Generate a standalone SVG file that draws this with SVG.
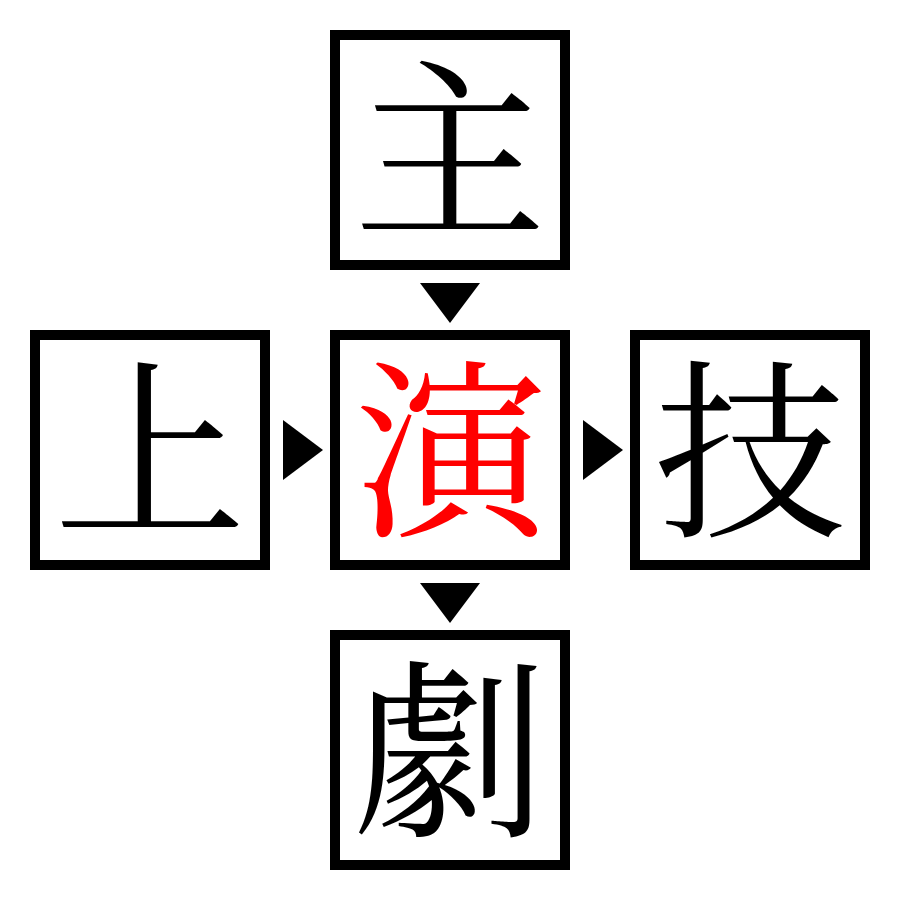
<svg xmlns="http://www.w3.org/2000/svg" width="900" height="900" viewBox="0 0 900 900">
<style>
.box{fill:#fff;stroke:#000;stroke-width:10}
.ch{font-family:"Noto Serif CJK JP","Noto Sans CJK JP",serif;font-size:192px;text-anchor:middle;dominant-baseline:central;fill:#000}
.red{fill:#ff0000}
.arr{fill:#000}
</style>
<rect width="900" height="900" fill="#fff"/>
<g id="node-top"><rect class="box" x="335" y="35" width="230" height="230"/><text class="ch" x="450" y="139">主</text></g>
<g id="node-left"><rect class="box" x="35" y="335" width="230" height="230"/><text class="ch" x="150" y="439">上</text></g>
<g id="node-center"><rect class="box" x="335" y="335" width="230" height="230"/><text class="ch red" x="450" y="439">演</text></g>
<g id="node-right"><rect class="box" x="635" y="335" width="230" height="230"/><text class="ch" x="750" y="439">技</text></g>
<g id="node-bottom"><rect class="box" x="335" y="635" width="230" height="230"/><text class="ch" x="450" y="739">劇</text></g>
<g id="connectors">
<polygon class="arr" points="420,283 480,283 450,323"/>
<polygon class="arr" points="283,420 283,480 323,450"/>
<polygon class="arr" points="583,420 583,480 623,450"/>
<polygon class="arr" points="420,583 480,583 450,623"/>
</g>
</svg>
